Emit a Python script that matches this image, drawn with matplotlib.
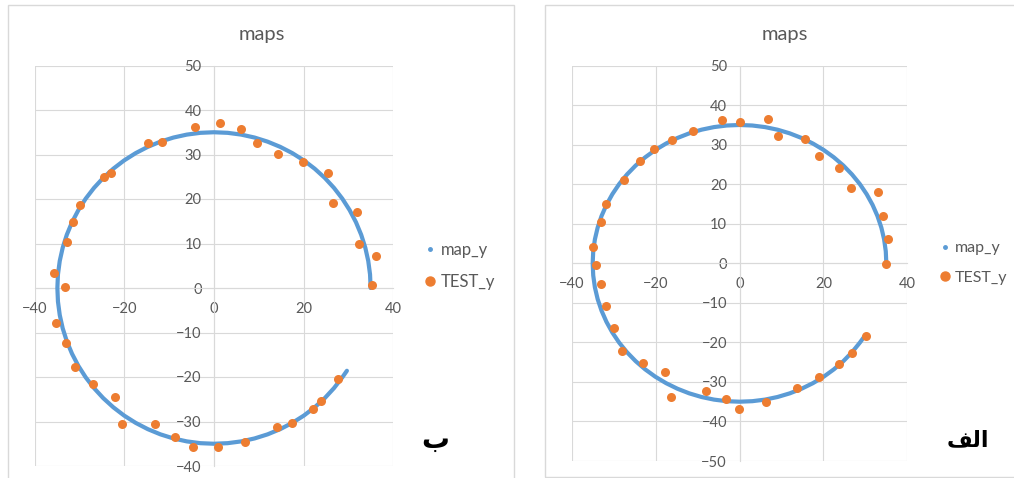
import matplotlib
matplotlib.use('Agg')
import matplotlib.pyplot as plt
from matplotlib.lines import Line2D
from matplotlib.patches import Rectangle

# curva map_y (radio ~35, cada 5 grados)
map_x = [35.00, 34.87, 34.47, 33.81, 32.89, 31.72, 30.31, 28.67, 26.81, 24.75,
         22.50, 20.08, 17.50, 14.79, 11.97, 9.06, 6.08, 3.05, 0.00,
         -3.05, -6.08, -9.06, -11.97, -14.79, -17.50, -20.08, -22.50, -24.75,
         -26.81, -28.67, -30.31, -31.72, -32.89, -33.81, -34.47, -34.87, -35.00,
         -34.87, -34.47, -33.81, -32.89, -31.72, -30.31, -28.67, -26.81, -24.75,
         -22.50, -20.08, -17.50, -14.79, -11.97, -9.06, -6.08, -3.05, 0.00,
         3.05, 6.08, 9.06, 11.97, 14.79, 17.50, 20.08, 22.50, 24.75,
         26.81, 28.67, 29.70]
map_y = [0.00, 3.05, 6.08, 9.06, 11.97, 14.79, 17.50, 20.08, 22.50, 24.75,
         26.81, 28.67, 30.31, 31.72, 32.89, 33.81, 34.47, 34.87, 35.00,
         34.87, 34.47, 33.81, 32.89, 31.72, 30.31, 28.67, 26.81, 24.75,
         22.50, 20.08, 17.50, 14.79, 11.97, 9.06, 6.08, 3.05, 0.00,
         -3.05, -6.08, -9.06, -11.97, -14.79, -17.50, -20.08, -22.50, -24.75,
         -26.81, -28.67, -30.31, -31.72, -32.89, -33.81, -34.47, -34.87, -35.00,
         -34.87, -34.47, -33.81, -32.89, -31.72, -30.31, -28.67, -26.81, -24.75,
         -22.50, -20.08, -18.60]

# TEST_y grafico izquierdo (ب)
test_b_x = [-4.3, 1.3, 6.0, 9.5, 14.2, 19.9, 25.4, 26.5, 31.9, 32.3, 36.1, 35.4,
            -14.7, -11.6, -24.6, -23.0, -30.0, -31.5, -32.8, -35.8, -33.3,
            -35.3, -33.0, -31.0, -27.0, -22.1, -20.6, -13.1, -8.7, -4.7,
            1.0, 6.9, 14.0, 17.4, 22.1, 24.0, 27.8]
test_b_y = [36.1, 37.0, 35.8, 32.6, 30.1, 28.3, 25.9, 19.2, 17.0, 10.0, 7.2, 0.6,
            32.5, 32.8, 24.9, 25.9, 18.7, 14.9, 10.4, 3.4, 0.2,
            -7.9, -12.4, -17.8, -21.6, -24.4, -30.6, -30.6, -33.4, -35.8,
            -35.8, -34.6, -31.3, -30.4, -27.1, -25.3, -20.5]

# TEST_y grafico derecho (الف)
test_a_x = [-4.1, 0.2, 6.8, 9.1, 15.6, 19.0, 23.8, 26.5, 33.1, 34.3, 35.3, 34.9,
            -11.2, -16.0, -20.3, -23.7, -27.6, -31.9, -33.0, -35.0, -34.1,
            -32.9, -31.8, -29.8, -27.9, -23.1, -17.8, -16.4, -8.0, -3.3,
            -0.2, 6.4, 13.7, 19.0, 23.8, 26.8, 30.2]
test_a_y = [36.3, 35.8, 36.5, 32.2, 31.5, 27.2, 24.2, 19.1, 18.0, 11.9, 6.2, -0.2,
            33.5, 31.3, 28.9, 25.8, 21.2, 14.9, 10.5, 4.2, -0.3,
            -5.1, -10.8, -16.3, -22.1, -25.1, -27.4, -33.9, -32.3, -34.4,
            -36.8, -35.1, -31.5, -28.8, -25.5, -22.7, -18.3]

W, H = 1014, 478
azul = '#5B9BD5'
naranja = '#ED7D31'
gris = '#595959'
linea = '#d9d9d9'

plt.rcParams['font.family'] = ['Lato', 'DejaVu Sans']

fig = plt.figure(figsize=(W/100., H/100.), dpi=100)

def fx(p):
    return p/float(W)

def fy(p):
    return 1 - p/float(H)

# marcos de cada grafico
fig.patches.append(Rectangle((fx(8), fy(485)), fx(514)-fx(8), fy(5)-fy(485),
                             transform=fig.transFigure, fill=False, ec=linea, lw=1))
fig.patches.append(Rectangle((fx(545), fy(477)), fx(1020)-fx(545), fy(5)-fy(477),
                             transform=fig.transFigure, fill=False, ec=linea, lw=1))

def grafico(rect, tx, ty, ylim):
    ax = fig.add_axes(rect)
    ax.plot(map_x, map_y, color=azul, lw=3, solid_capstyle='round', solid_joinstyle='round', zorder=3)
    ax.plot(tx, ty, 'o', color=naranja, ms=6.5, mec='none', zorder=4)
    ax.set_xlim(-40, 40)
    ax.set_ylim(ylim[0], ylim[1])
    ax.set_xticks(range(-40, 41, 20))
    ax.set_yticks(range(ylim[0], ylim[1]+1, 10))
    ax.grid(True, color=linea, lw=0.8)
    ax.set_axisbelow(True)
    ax.spines['left'].set_position(('data', 0))
    ax.spines['bottom'].set_position(('data', 0))
    ax.spines['left'].set_color(linea)
    ax.spines['bottom'].set_color(linea)
    ax.spines['top'].set_visible(False)
    ax.spines['right'].set_visible(False)
    ax.tick_params(axis='x', length=0, pad=10, labelsize=10.5, labelcolor=gris)
    ax.tick_params(axis='y', length=0, pad=9, labelsize=10.5, labelcolor=gris)
    ax.patch.set_alpha(0)
    return ax

ax1 = grafico([fx(35), fy(466), fx(393)-fx(35), fy(65.5)-fy(466)], test_b_x, test_b_y, (-40, 50))
ax2 = grafico([fx(571.7), fy(461), fx(907.3)-fx(571.7), fy(65.7)-fy(461)], test_a_x, test_a_y, (-50, 50))

fig.text(fx(262), fy(40), 'maps', ha='center', va='baseline', fontsize=14.5, color=gris)
fig.text(fx(784.5), fy(40), 'maps', ha='center', va='baseline', fontsize=14.5, color=gris)

h = [Line2D([], [], marker='o', ls='none', color=azul, ms=2.5),
     Line2D([], [], marker='o', ls='none', color=naranja, ms=6.5)]
for px, py, fs in [(425, 266, 12), (940, 263, 11.5)]:
    leg = fig.legend(h, ['map_y', 'TEST_y'], loc='center left', bbox_to_anchor=(fx(px), fy(py)),
                     frameon=False, fontsize=fs, handlelength=0.6, handletextpad=0.35,
                     labelspacing=0.95, borderpad=0, borderaxespad=0)
    for t in leg.get_texts():
        t.set_color(gris)

# letras persas (formas de presentacion porque matplotlib no une letras arabes)
fig.text(fx(435), fy(440), 'ب', ha='center', va='center', fontsize=20,
         fontweight='bold', family=['DejaVu Sans'])
fig.text(fx(968), fy(440), '\ufed2\ufedf\ufe8d', ha='center', va='center', fontsize=16,
         fontweight='bold', family=['DejaVu Sans'])

plt.savefig('out.png', dpi=100)
